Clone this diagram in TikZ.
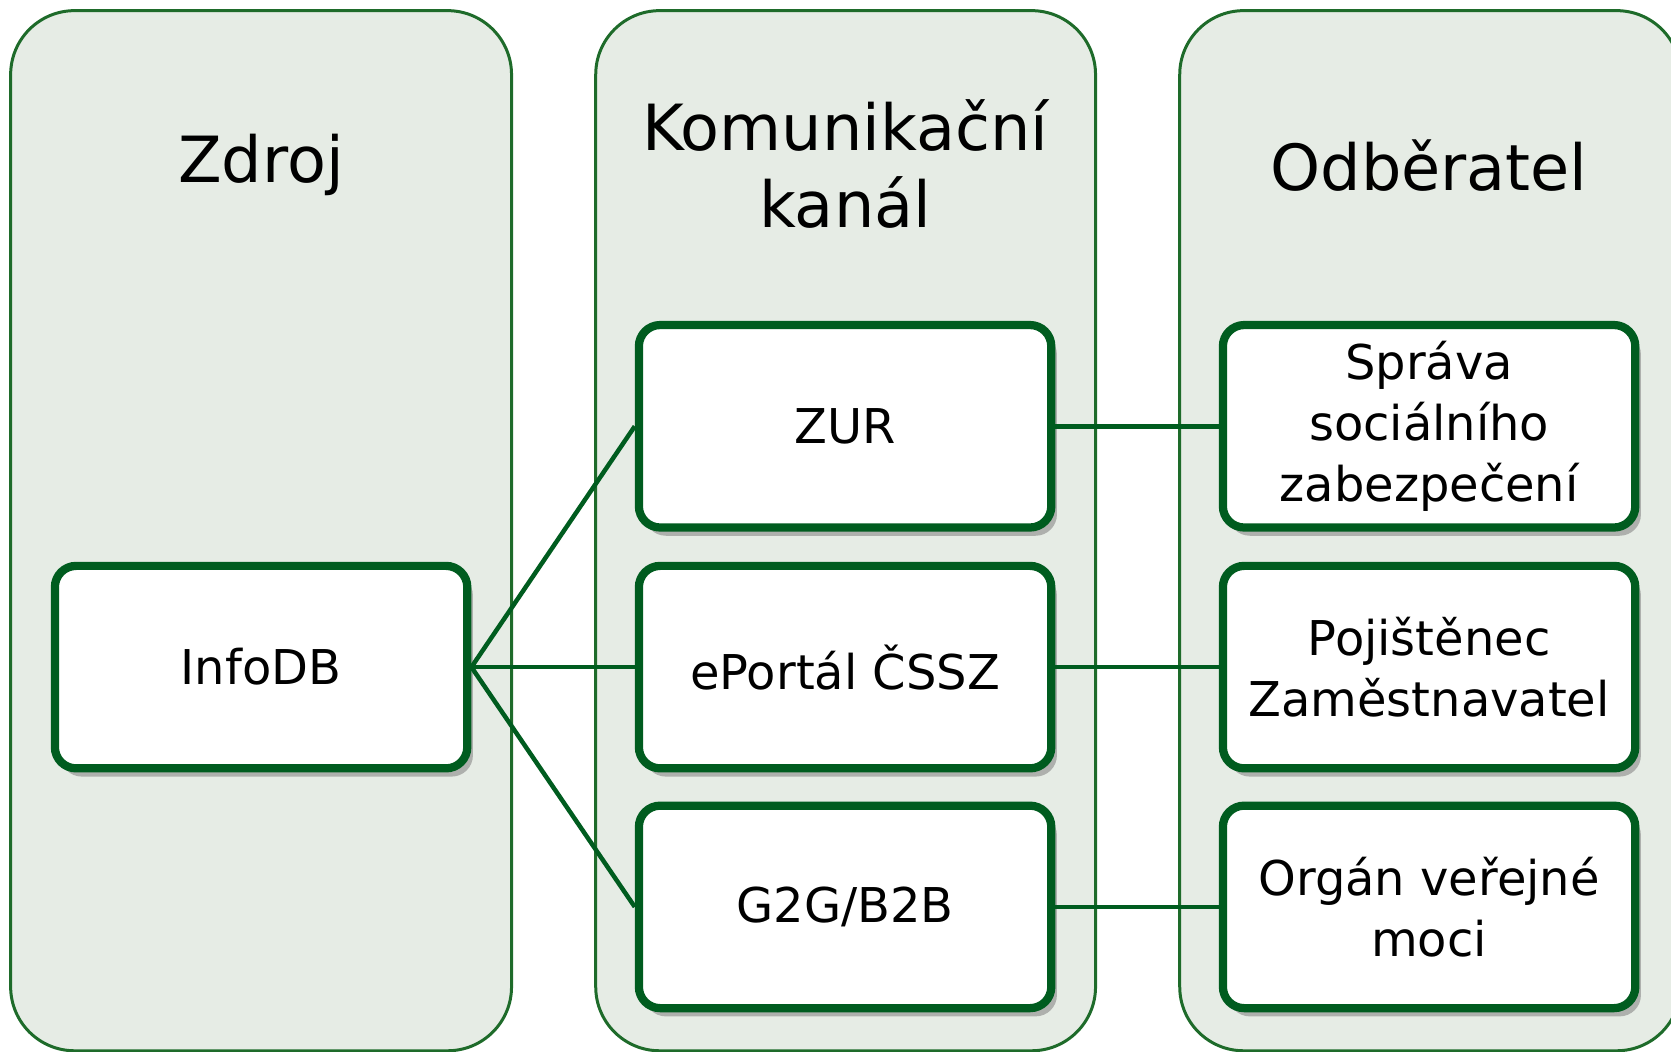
\documentclass[tikz,border=0pt]{standalone}
\usepackage{fontspec}
\setmainfont{DejaVu Sans}
\usetikzlibrary{positioning}
\usetikzlibrary{shadows}

\definecolor{panelfill}{HTML}{E6ECE5}
\definecolor{paneldraw}{HTML}{1E6B2A}
\definecolor{boxgreen}{HTML}{005C1F}

\tikzset{
  panel/.style={fill=panelfill, draw=paneldraw, line width=0.8pt, rounded corners=0.6cm},
  heading/.style={align=center, font=\fontsize{17pt}{20.4pt}\selectfont},
  item/.style={draw=boxgreen, fill=white, line width=2.2pt, rounded corners=0.2cm,
    minimum width=3.87cm, minimum height=1.90cm, align=center,
    font=\fontsize{12.8pt}{16.2pt}\selectfont,
    drop shadow={shadow xshift=1.5pt, shadow yshift=-2.2pt, fill=black!50, opacity=0.55}},
  link/.style={draw=boxgreen, line width=1.2pt}
}

\begin{document}
\begin{tikzpicture}
\useasboundingbox (0,0) rectangle (15.68,9.87);
\clip (0,0) rectangle (15.68,9.87);
%panels
\draw[panel] (0.10,0.01) rectangle (4.80,9.77);
\draw[panel] (5.59,0.01) rectangle (10.28,9.77);
\draw[panel] (11.07,0.01) rectangle (15.77,9.77);
%headings
\node[heading] (zdroj) at (2.45,8.32) {Zdroj};
\node[heading] (kanal) at (7.93,8.33) {Komunikační\\kanál};
\node[heading] (odberatel) at (13.41,8.32) {Odběratel};
%source
\node[item] (infodb) at (2.45,3.61) {InfoDB};
%channels
\node[item] (zur) at (7.93,5.87) {ZUR};
\node[item] (eportal) at (7.93,3.61) {ePortál ČSSZ};
\node[item] (g2g) at (7.93,1.36) {G2G/B2B};
%receivers
\node[item] (sprava) at (13.41,5.87) {Správa\\sociálního\\zabezpečení};
\node[item] (pojistenec) at (13.41,3.61) {Pojištěnec\\Zaměstnavatel};
\node[item] (organ) at (13.41,1.36) {Orgán veřejné\\moci};
%links
\draw[link] (infodb.east) -- (zur.west);
\draw[link] (infodb.east) -- (eportal.west);
\draw[link] (infodb.east) -- (g2g.west);
\draw[link] (zur.east) -- (sprava.west);
\draw[link] (eportal.east) -- (pojistenec.west);
\draw[link] (g2g.east) -- (organ.west);
\end{tikzpicture}
\end{document}
